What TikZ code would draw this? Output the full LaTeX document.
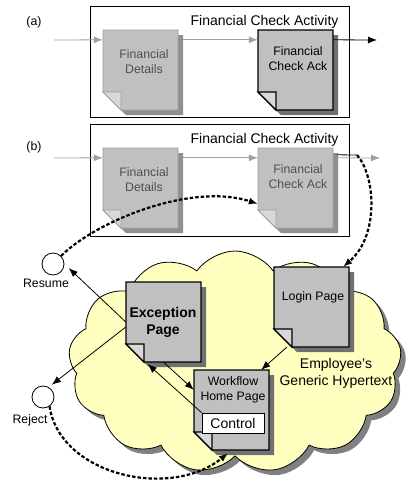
\documentclass[tikz,border=0pt]{standalone}
\usepackage{fontspec}
\setmainfont{Liberation Sans}
\usetikzlibrary{arrows.meta,calc,shapes.symbols}
\definecolor{pagefill}{HTML}{C0C0C0}
\definecolor{pageedge}{HTML}{A0A0A0}
\definecolor{flapfill}{HTML}{D8D8D8}
\definecolor{lightshadow}{HTML}{909090}
\definecolor{darkshadow}{HTML}{707070}
\definecolor{paletext}{HTML}{505050}
\definecolor{webfill}{HTML}{FFFFC0}
\definecolor{webshadow}{HTML}{808080}
\newcommand{\pagefont}{\fontsize{12.3}{15}\selectfont}
\newcommand{\titlefont}{\fontsize{14}{17}\selectfont}
\newcommand{\pagepath}{-- ++(75,0) -- ++(0,80) -- ++(-57,0) -- ++(-18,-18) -- cycle}
\newcommand{\docpage}[3]{%
  \path[#1 shadow] ($(#3)+(5,5)$) \pagepath;
  \path[#1 page] (#3) \pagepath;
  \path[#1 flap] ($(#3)+(0,62)$) -- ++(18,0) -- ++(0,18) -- cycle;
  \node[page box] (#2) at ($(#3)+(37.5,40)$) {};
}
\tikzset{
  >={Latex[length=9pt,width=7pt]},
  activity/.style={draw,line width=0.9pt},
  light shadow/.style={fill=lightshadow},
  dark shadow/.style={fill=darkshadow},
  light page/.style={fill=pagefill,draw=pageedge,line width=0.9pt},
  dark page/.style={fill=pagefill,draw=black,line width=1.1pt},
  light flap/.style={fill=flapfill,draw=pageedge,line width=0.9pt},
  dark flap/.style={fill=flapfill,draw=black,line width=1.1pt},
  page box/.style={minimum width=75pt,minimum height=80pt,inner sep=0},
  pale text/.style={font=\pagefont,align=center,text=paletext},
  page text/.style={font=\pagefont,align=center},
  big text/.style={font=\titlefont,align=center},
  control/.style={draw,fill=white,line width=0.8pt,minimum width=62pt,
    minimum height=20pt,inner sep=0,font=\titlefont},
  exit/.style={circle,draw,fill=white,line width=0.8pt,minimum size=22pt,inner sep=0},
  web/.style={cloud,cloud puffs=13,cloud puff arc=110,draw,fill=webfill,
    line width=0.8pt,minimum width=333pt,minimum height=222pt},
  web shadow/.style={web,draw=none,fill=webshadow},
  flow/.style={->,line width=0.8pt},
  gray flow/.style={flow,draw=pageedge},
  jump link/.style={->,line width=2.2pt,dash pattern=on 3.5pt off 2pt},
}
\begin{document}
\begin{tikzpicture}[x=1pt,y=-1pt]
\useasboundingbox (0,0) rectangle (415,483);
% activity frames
\draw[activity] (90,6) rectangle (349,117);
\draw[activity] (90,124) rectangle (349,236);
\node[big text,anchor=east] (title-a) at (342,22) {Financial Check Activity};
\node[big text,anchor=east] (title-b) at (342,140) {Financial Check Activity};
\node[page text] (lab-a) at (34,22) {(a)};
\node[page text] (lab-b) at (34,147) {(b)};
% hypertext cloud
\node[web shadow] (web-s) at (240,367) {};
\node[web] (web) at (235,362) {};
\node[big text] (web-t) at (336,373) {Employee’s\\Generic Hypertext};
% pages
\docpage{light}{fd-a}{103,30}
\docpage{dark}{ack-a}{258,30}
\docpage{light}{fd-b}{103,148}
\docpage{light}{ack-b}{258,148}
\docpage{dark}{exc}{126,282}
\docpage{dark}{login}{274,267}
\docpage{dark}{wf}{194,370}
\node[pale text] (fd-a-t) at (144,62) {Financial\\Details};
\node[page text] (ack-a-t) at (298,59) {Financial\\Check Ack};
\node[pale text] (fd-b-t) at (144,180) {Financial\\Details};
\node[pale text] (ack-b-t) at (298,177) {Financial\\Check Ack};
\node[big text,font=\titlefont\bfseries] (exc-t) at (163,322) {Exception\\Page};
\node[page text] (login-t) at (313,297) {Login Page};
\node[page text] (wf-t) at (233,390) {Workflow\\Home Page};
\node[control] (ctrl) at (233,423) {Control};
% exits
\node[exit] (resume) at (53,264) {};
\node[exit] (reject) at (43,397) {};
\node[page text] (resume-t) at (46,283) {Resume};
\node[page text] (reject-t) at (30,420) {Reject};
% flow arrows
\coordinate (start-a) at (54,40);
\coordinate (end-a) at (377,40);
\coordinate (start-b) at (54,158);
\coordinate (end-b) at (380,158);
\coordinate (jump) at (357,155);
\draw[gray flow] (start-a) -- ([yshift=-10pt]fd-a.north west);
\draw[gray flow] ([shift={(5pt,-10pt)}]fd-a.north east) -- ([yshift=-10pt]ack-a.north west);
\draw[flow] ([yshift=-10pt]ack-a.north east) -- (end-a);
\draw[gray flow] (start-b) -- ([yshift=-10pt]fd-b.north west);
\draw[gray flow] ([shift={(5pt,-10pt)}]fd-b.north east) -- ([yshift=-10pt]ack-b.north west);
\draw[gray flow] ([shift={(5pt,-10pt)}]ack-b.north east) -- (end-b);
\draw[line width=0.8pt] ([shift={(4pt,-7pt)}]ack-b.north east) -- (jump);
% links inside the cloud
\draw[flow,shorten >=6pt] (exc.west) -- (resume.east);
\draw[flow,shorten >=4pt] ([yshift=-5pt]exc.west) -- (reject.60);
\draw[flow] (exc.south) -- ([yshift=-20pt]wf.north west);
\draw[flow] (ctrl.north west) -- ([xshift=22pt,yshift=-2pt]exc.south west);
\draw[flow] ([xshift=13pt]login.south west) -- ([xshift=-8pt]wf.north east);
% jumps
\draw[jump link] (jump) .. controls (375,175) and (380,235) .. ([xshift=-6pt]login.north east);
\draw[jump link] (resume.45) .. controls (95,222) and (190,182) .. ([yshift=-56pt]ack-b.north west);
\draw[jump link] (reject.-55) .. controls (60,475) and (170,500) .. ([yshift=-3pt,xshift=-3.5pt]wf.south);
\end{tikzpicture}
\end{document}
